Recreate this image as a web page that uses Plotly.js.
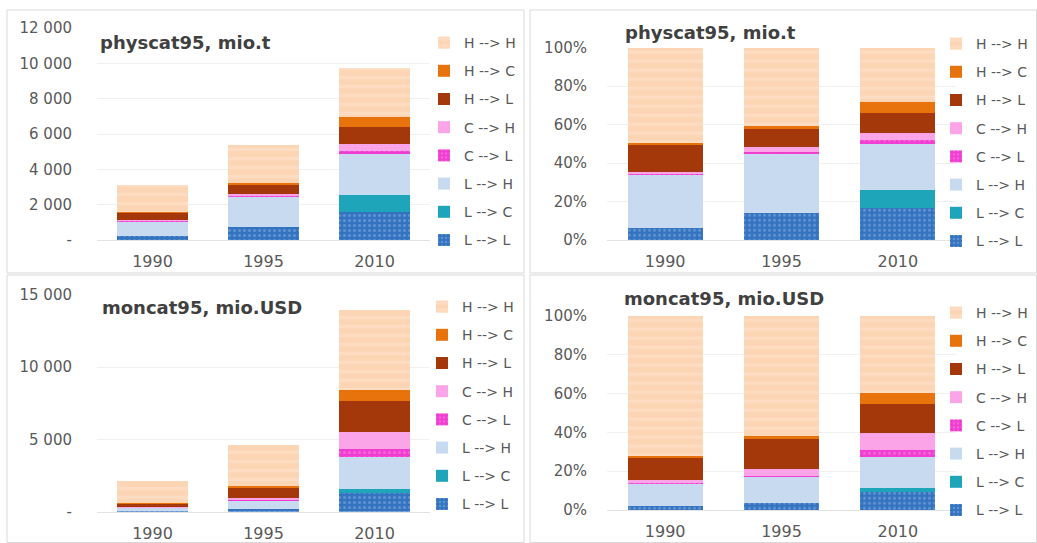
<!DOCTYPE html>
<html><head><meta charset="utf-8">
<script src="https://cdn.plot.ly/plotly-3.0.1.min.js"></script>
<style>html,body{margin:0;padding:0;background:#fff;overflow:hidden;width:1037px;height:543px}#chart{width:1037px;height:543px;overflow:hidden;position:relative}</style>
</head><body><div id="chart"></div>
<script>
// ---- data ----
const years = ['1990', '1995', '2010'];
const flowNames = ['L --> L', 'L --> C', 'L --> H', 'C --> L', 'C --> H', 'H --> L', 'H --> C', 'H --> H'];

// physcat95, mio.t
const physLL = [200, 750, 1600];
const physLC = [0, 0, 950];
const physLH = [870, 1700, 2320];
const physCL = [10, 30, 180];
const physCH = [30, 140, 360];
const physHL = [450, 500, 980];
const physHC = [20, 90, 590];
const physHH = [1550, 2190, 2730];

// moncat95, mio.USD
const monLL = [40, 160, 1300];
const monLC = [0, 0, 250];
const monLH = [260, 630, 2270];
const monCL = [5, 20, 500];
const monCH = [30, 170, 1220];
const monHL = [250, 690, 2110];
const monHC = [10, 90, 760];
const monHH = [1560, 2840, 5570];

const physTitle = 'physcat95, mio.t';
const monTitle = 'moncat95, mio.USD';

const physTickVals = [0, 2000, 4000, 6000, 8000, 10000, 12000];
const physTickText = ['-', '2 000', '4 000', '6 000', '8 000', '10 000', '12 000'];
const monTickVals = [0, 5000, 10000, 15000];
const monTickText = ['-', '5 000', '10 000', '15 000'];
const pctTickVals = [0, 20, 40, 60, 80, 100];
const pctTickText = ['0%', '20%', '40%', '60%', '80%', '100%'];

// ---- styles ----
const W = 1037, H = 543;
const px = x => x / W;
const py = y => 1 - y / H;
const FONT = 'DejaVu Sans, Verdana, sans-serif';
const GREY = '#595959';

const flowColors = ['#3473bf', '#1ea5ba', '#c8daf0', '#f03cd0', '#fba5e8', '#a4380a', '#e8720c', '#fcd5b4'];
const flowPatterns = [
  {shape: '.', fgcolor: '#8ab2e3', size: 5, solidity: 0.3, fillmode: 'overlay'},
  null, null,
  {shape: '.', fgcolor: '#f78fe2', size: 5, solidity: 0.3, fillmode: 'overlay'},
  null, null, null,
  {shape: '-', fgcolor: '#fee4cf', size: 9, solidity: 0.35, fillmode: 'overlay'}
];

const physSeries = [physLL, physLC, physLH, physCL, physCH, physHL, physHC, physHH];
const monSeries = [monLL, monLC, monLH, monCL, monCH, monHL, monHC, monHH];

function toPercent(series) {
  const totals = years.map((_, j) => series.reduce((s, arr) => s + arr[j], 0));
  return series.map(arr => arr.map((v, j) => 100 * v / totals[j]));
}

const panels = [
  {series: physSeries, x: 'x', y: 'y', legend: 'legend'},
  {series: toPercent(physSeries), x: 'x2', y: 'y2', legend: 'legend2'},
  {series: monSeries, x: 'x3', y: 'y3', legend: 'legend3'},
  {series: toPercent(monSeries), x: 'x4', y: 'y4', legend: 'legend4'}
];

const traces = [];
panels.forEach((p, pi) => {
  p.series.forEach((vals, i) => {
    const marker = {color: flowColors[i], line: {width: 0}};
    if (flowPatterns[i]) marker.pattern = Object.assign({}, flowPatterns[i]);
    traces.push({
      type: 'bar', x: years, y: vals, name: flowNames[i],
      xaxis: p.x, yaxis: p.y, legend: p.legend,
      legendgroup: 'g' + pi + '_' + i, legendrank: flowNames.length - i,
      marker: marker, hoverinfo: 'name+y'
    });
  });
});

function xAxis(domain, anchor) {
  return {
    domain: domain, anchor: anchor, type: 'category',
    showgrid: false, showline: true, linecolor: '#e3e3e3', linewidth: 1,
    ticks: '', ticklabelstandoff: 7,
    tickfont: {family: FONT, size: 16, color: GREY}, fixedrange: true
  };
}
function yAxis(domain, anchor, range, tv, tt, standoff) {
  return {
    domain: domain, anchor: anchor, range: range,
    tickvals: tv, ticktext: tt, showgrid: true, gridcolor: '#f0f0f0', gridwidth: 1,
    zeroline: false, showline: false, ticks: '', ticklabelstandoff: standoff,
    tickfont: {family: FONT, size: 15, color: GREY}, fixedrange: true
  };
}

function legendAt(x, y) {
  return {
    x: px(x), y: py(y), xanchor: 'left', yanchor: 'top',
    traceorder: 'grouped', tracegroupgap: 7,
    font: {family: FONT, size: 14, color: GREY},
    bgcolor: 'rgba(0,0,0,0)', borderwidth: 0, itemclick: false, itemdoubleclick: false
  };
}

function titleAnn(text, x, y) {
  return {
    text: '<b>' + text + '</b>', xref: 'paper', yref: 'paper',
    x: px(x), y: py(y), xanchor: 'left', yanchor: 'middle', showarrow: false,
    font: {family: FONT, size: 18, color: '#404040'}
  };
}

function border(x0, y0, x1, y1) {
  return {type: 'rect', xref: 'paper', yref: 'paper', x0: px(x0), x1: px(x1), y0: py(y1), y1: py(y0),
    line: {color: '#d9d9d9', width: 1}, fillcolor: 'rgba(0,0,0,0)', layer: 'below'};
}

const layout = {
  width: W, height: H,
  margin: {l: 0, r: 0, t: 0, b: 0},
  paper_bgcolor: '#ffffff', plot_bgcolor: 'rgba(0,0,0,0)',
  barmode: 'stack', bargap: 0.357,
  showlegend: true,
  font: {family: FONT, color: GREY},
  xaxis: xAxis([px(97), px(430)], 'y'),
  yaxis: yAxis([py(240), py(28)], 'x', [0, 12000], physTickVals, physTickText, 24),
  xaxis2: xAxis([px(607), px(956)], 'y2'),
  yaxis2: yAxis([py(240), py(47.7)], 'x2', [0, 100], pctTickVals, pctTickText, 19),
  xaxis3: xAxis([px(97), px(430)], 'y3'),
  yaxis3: yAxis([py(511.7), py(295)], 'x3', [0, 15000], monTickVals, monTickText, 24),
  xaxis4: xAxis([px(607), px(956)], 'y4'),
  yaxis4: yAxis([py(510), py(315.7)], 'x4', [0, 100], pctTickVals, pctTickText, 19),
  legend: legendAt(424, 27),
  legend2: legendAt(936, 28),
  legend3: legendAt(422, 291),
  legend4: legendAt(936, 297),
  annotations: [
    titleAnn(physTitle, 98, 42),
    titleAnn(physTitle, 623, 33),
    titleAnn(monTitle, 100, 307),
    titleAnn(monTitle, 622, 298)
  ],
  shapes: [
    border(7, 10, 524, 273),
    border(530, 10, 1036.5, 273),
    border(7, 275, 524, 542.5),
    border(530, 275, 1036.5, 542.5)
  ]
};

Plotly.newPlot('chart', traces, layout, {displayModeBar: false, responsive: false});
</script>
</body></html>
